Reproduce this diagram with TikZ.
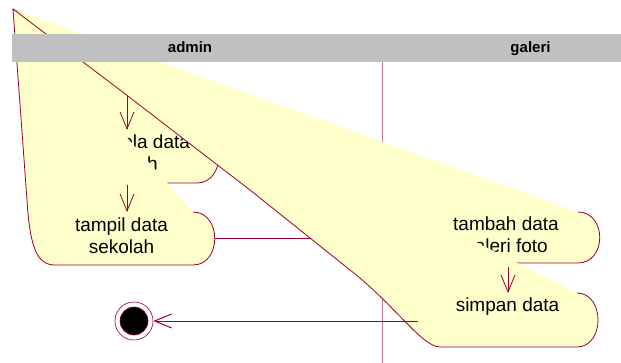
\documentclass[tikz,border=0pt]{standalone}
\usepackage{fontspec}
\setmainfont{Liberation Sans}
\usetikzlibrary{arrows.meta}

\definecolor{rosefill}{RGB}{255,255,204}
\definecolor{roseline}{RGB}{153,0,51}
\definecolor{laneline}{RGB}{204,120,150}
\definecolor{headgray}{RGB}{192,192,192}

\begin{document}
\begin{tikzpicture}%
	[x={(1pt,0pt)},
	y={(0pt,-1pt)},
	actfill/.style={fill=rosefill},
	actedge/.style={draw=roseline, line width=0.8pt},
	acttext/.style={font=\fontsize{19}{22}\selectfont, align=center, anchor=base, inner sep=0pt},
	flow/.style={draw=roseline, line width=0.8pt, -{Straight Barb[length=17pt,width=14pt]}},
	joinflow/.style={draw=roseline, line width=1.3pt},
	lane/.style={draw=laneline, line width=1pt},
	header/.style={fill=headgray},
	lanetext/.style={font=\fontsize{15}{15}\selectfont\bfseries, anchor=base, inner sep=0pt},
	endstate/.style={circle, draw=roseline, fill=white, line width=0.6pt, minimum size=38pt, inner sep=0pt}]
%
\useasboundingbox (0,0) rectangle (621,363);
%
\coordinate (apex) at (13,9);
\coordinate (mulai) at (127,60);
\coordinate (kelola-in) at (127,130);
\coordinate (kelola-out) at (127,185);
\coordinate (tampil-in) at (127,212);
\coordinate (tampil-out) at (215,238.5);
\coordinate (tambah-in) at (430,238.5);
\coordinate (tambah-out) at (508,267);
\coordinate (simpan-in) at (508,293);
\coordinate (simpan-out) at (418,321);
%%
%% lane divider
%%
\draw[lane] (382,62) -- (382,363);
%%
%% kelola
%%
\fill[actfill] (apex) -- (197,130) .. controls (226,130) and (226,183) .. (197,183) -- (50,183) .. controls (40,183) and (36,175) .. (35,160) -- cycle;
\draw[actedge] (197,130) .. controls (226,130) and (226,183) .. (197,183) -- (50,183) .. controls (40,183) and (36,175) .. (35,160) -- (apex);
\node[acttext] (kelola) at (125,171) {mengelola data\\sekolah};
\draw[flow] (mulai) -- (kelola-in);
%%
%% tampil
%%
\fill[actfill] (apex) -- (193,212) .. controls (222,212) and (222,265) .. (193,265) -- (55,265) .. controls (38,265) and (30,250) .. (27,200) -- cycle;
\draw[actedge] (193,212) .. controls (222,212) and (222,265) .. (193,265) -- (55,265) .. controls (38,265) and (30,250) .. (27,200) -- (apex);
\node[acttext] (tampil) at (121.5,254) {tampil data\\sekolah};
\draw[flow] (kelola-out) -- (tampil-in);
\draw[joinflow] (tampil-out) -- (tambah-in);
%%
%% tambah
%%
\fill[actfill] (apex) -- (578,212) .. controls (607,212) and (607,263) .. (578,263) -- (450,263) .. controls (440,263) and (432,255) .. (430,245) -- cycle;
\draw[actedge] (578,212) .. controls (607,212) and (607,263) .. (578,263) -- (450,263) .. controls (440,263) and (432,255) .. (430,245) -- (apex);
\node[acttext] (tambah) at (506,253) {tambah data\\galeri foto};
%%
%% simpan
%%
\fill[actfill] (apex) -- (577,293) .. controls (605,293) and (605,347) .. (577,347) -- (440,347) .. controls (422,347) and (395,305) .. (350,270) -- (250,190) -- (120,90) -- cycle;
\draw[actedge] (577,293) .. controls (605,293) and (605,347) .. (577,347) -- (440,347) .. controls (422,347) and (395,305) .. (350,270) -- (250,190) -- (120,90) -- (apex);
\node[acttext] (simpan) at (507.5,312) {simpan data};
\draw[flow] (tambah-out) -- (simpan-in);
%%
%% end state
%%
\node[endstate] (akhir) at (134,321) {};
\filldraw[draw=roseline, fill=black, line width=0.6pt] (akhir.center) circle[radius=14pt];
\draw[flow, line width=1pt] (simpan-out) -- (akhir);
%%
%% header
%%
\fill[header] (12,34) rectangle (621,62);
\node[lanetext] (admin) at (190,53) {admin};
\node[lanetext] (galeri) at (530.5,53) {galeri};

\end{tikzpicture}
\end{document}
